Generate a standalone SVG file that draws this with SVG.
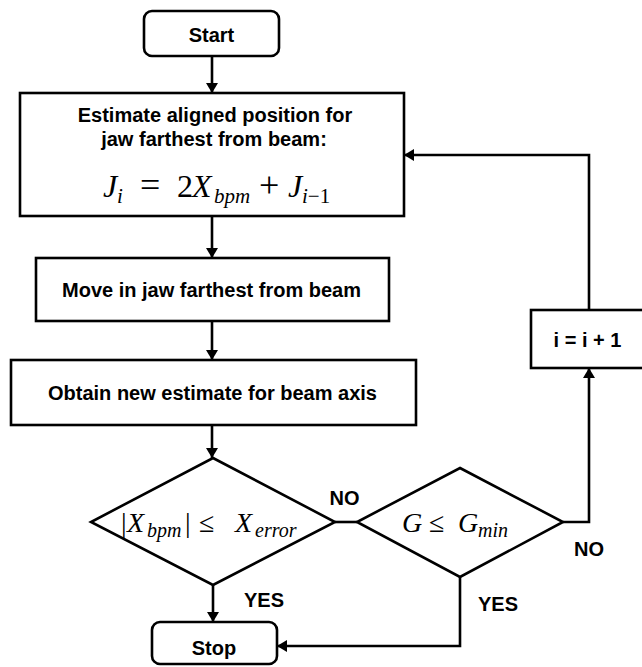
<svg xmlns="http://www.w3.org/2000/svg" width="642" height="667" viewBox="0 0 642 667">
<defs>
<marker id="ah" viewBox="0 0 10 12" refX="10" refY="6" markerWidth="10" markerHeight="12" orient="auto" markerUnits="userSpaceOnUse">
<path d="M0,0 L10,6 L0,12 z" fill="#000"/>
</marker>
<style>
.box{fill:#fff;stroke:#000;stroke-width:2.6}
.t{font-family:"Liberation Sans",Arial,sans-serif;font-weight:bold;font-size:20px;text-anchor:middle;fill:#000}
.m{font-family:"Liberation Serif","Times New Roman",serif;font-style:italic;font-size:32px;fill:#000}
.s{font-family:"Liberation Serif","Times New Roman",serif;font-style:italic;font-size:28px;fill:#000}
.mu{font-style:normal}
.c{fill:none;stroke:#000;stroke-width:2.6;marker-end:url(#ah)}
.l{fill:none;stroke:#000;stroke-width:2.6}
</style>
</defs>
<rect width="642" height="667" fill="#fff"/>
<g id="connectors">
<path class="c" d="M212,56 V93"/>
<path class="c" d="M212,216 V258"/>
<path class="c" d="M212,321 V360"/>
<path class="c" d="M212,425 V458"/>
<path class="c" d="M213,585 V622"/>
<path class="l" d="M335,522 H357"/>
<path class="c" d="M460,577 V646 H277"/>
<path class="c" d="M563,522 H589 V368"/>
<path class="c" d="M589,310 V155 H404"/>
</g>
<g id="start">
<rect class="box" x="144" y="11" width="135" height="45" rx="8"/>
<text class="t" x="211.5" y="42">Start</text>
</g>
<g id="estimate">
<rect class="box" x="20" y="93" width="384" height="123"/>
<text class="t" x="215" y="122">Estimate aligned position for</text>
<text class="t" x="214" y="146">jaw farthest from beam:</text>
<text class="m" y="197"><tspan x="103">J</tspan><tspan x="117" y="203" font-size="21">i</tspan><tspan class="mu" x="140" y="197" font-size="36">=</tspan><tspan class="mu" x="177">2</tspan><tspan x="192">X</tspan><tspan x="214" y="203" font-size="21">bpm</tspan><tspan class="mu" x="259" y="197" font-size="36">+</tspan><tspan x="288">J</tspan><tspan x="302" y="203" font-size="21">i<tspan class="mu">−1</tspan></tspan></text>
</g>
<g id="move">
<rect class="box" x="36" y="258" width="353" height="63"/>
<text class="t" x="211.5" y="297">Move in jaw farthest from beam</text>
</g>
<g id="obtain">
<rect class="box" x="11" y="360" width="405" height="65"/>
<text class="t" x="212.5" y="400">Obtain new estimate for beam axis</text>
</g>
<g id="decision1">
<polygon class="box" points="213,458 335,522 213,585 91,522"/>
<text class="s" y="532"><tspan class="mu" x="121">|</tspan><tspan x="127">X</tspan><tspan x="147" y="537" font-size="20">bpm</tspan><tspan class="mu" x="185" y="532">|</tspan><tspan class="mu" x="199">≤</tspan><tspan x="235">X</tspan><tspan x="255" y="537" font-size="20">error</tspan></text>
</g>
<g id="decision2">
<polygon class="box" points="460,468 563,522 460,577 357,522"/>
<text class="s" y="532"><tspan x="402">G</tspan><tspan class="mu" x="429">≤</tspan><tspan x="458">G</tspan><tspan x="478" y="537" font-size="20">min</tspan></text>
</g>
<g id="incr">
<rect class="box" x="531" y="310" width="130" height="58"/>
<text class="t" x="587.5" y="347">i = i + 1</text>
</g>
<g id="stop">
<rect class="box" x="152" y="622" width="125" height="42" rx="8"/>
<text class="t" x="214" y="655">Stop</text>
</g>
<g id="labels">
<text class="t" x="344.5" y="505">NO</text>
<text class="t" x="589" y="556">NO</text>
<text class="t" x="264" y="607">YES</text>
<text class="t" x="498" y="611">YES</text>
</g>
</svg>
